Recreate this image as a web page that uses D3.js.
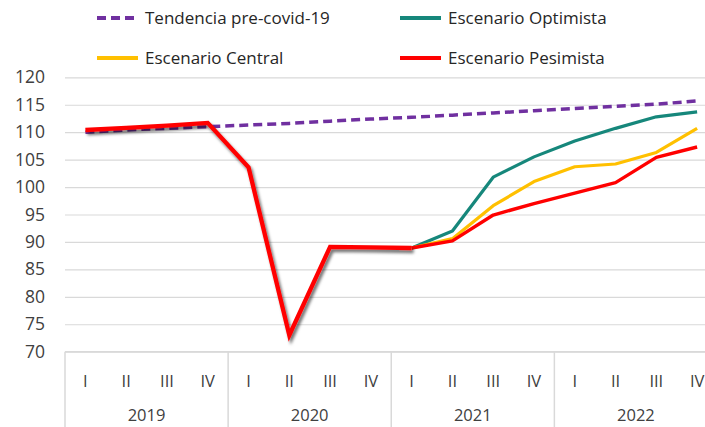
<!DOCTYPE html>
<html>
<head>
<meta charset="utf-8">
<script src="https://cdn.jsdelivr.net/npm/d3@7"></script>
<style>
  html, body { margin: 0; padding: 0; background: #fff; }
  svg { display: block; font-family: "Open Sans", sans-serif; }
</style>
</head>
<body>
<svg id="chart" width="705" height="427"></svg>
<script>
// Quarters and years on the horizontal axis
const years = ["2019", "2020", "2021", "2022"];
const quarters = ["I", "II", "III", "IV"];
const periods = years.flatMap(y => quarters.map(q => y + "-" + q));

// Y axis ticks
const yTicks = [70, 75, 80, 85, 90, 95, 100, 105, 110, 115, 120];

// Pre-covid-19 trend, all 16 quarters
const tendencia = [110.0, 110.4, 110.7, 111.0, 111.3, 111.6, 112.0, 112.4,
                   112.7, 113.1, 113.5, 113.9, 114.3, 114.7, 115.1, 115.7];

// Observed path shared by every scenario (2019-I .. 2021-I)
const historico = [110.4, 110.8, 111.2, 111.7, 103.6, 73.0, 89.1, 89.0, 88.9];

// Scenarios from 2021-I to 2022-IV
const optimista = [88.9, 92.0, 101.8, 105.5, 108.4, 110.7, 112.8, 113.7];
const central   = [88.9, 90.6, 96.6, 101.0, 103.7, 104.2, 106.3, 110.7];
const pesimista = [88.9, 90.2, 94.9, 97.0, 98.9, 100.8, 105.4, 107.3];

const colors = {
  tendencia: "#7030A0",
  optimista: "#16877B",
  central: "#FFC000",
  pesimista: "#FF0000",
  grid: "#D9D9D9",
  text: "#404040"
};

const svg = d3.select("#chart");
const plotLeft = 65, plotRight = 717.5, plotTop = 77.3, plotBottom = 351.7;

const x = d3.scaleBand().domain(periods).range([plotLeft, plotRight]).padding(0);
const y = d3.scaleLinear().domain([70, 120]).range([plotBottom, plotTop]);
const cx = p => x(p) + x.bandwidth() / 2;

const defs = svg.append("defs");
const shadow = defs.append("filter").attr("id", "shadow")
  .attr("x", "-10%").attr("y", "-10%").attr("width", "130%").attr("height", "130%");
shadow.append("feDropShadow")
  .attr("dx", 2).attr("dy", 3).attr("stdDeviation", 1.4)
  .attr("flood-color", "#000").attr("flood-opacity", 0.55);

// Gridlines and y labels
const yAxis = d3.axisLeft(y).tickValues(yTicks).tickSize(-(plotRight - plotLeft)).tickPadding(20);
const gy = svg.append("g").attr("transform", `translate(${plotLeft},0)`).call(yAxis);
gy.select(".domain").remove();
gy.selectAll(".tick line").attr("stroke", colors.grid).attr("stroke-width", 1.2);
gy.selectAll(".tick text")
  .attr("fill", colors.text).attr("font-size", 17.5)
  .attr("font-family", "'Open Sans', sans-serif");

// Category axis box: baseline, year separators, quarter and year labels
const axisG = svg.append("g");
axisG.append("line").attr("x1", plotLeft).attr("x2", plotRight)
  .attr("y1", plotBottom).attr("y2", plotBottom)
  .attr("stroke", colors.grid).attr("stroke-width", 1.5);
years.forEach(yr => {
  const x0 = x(yr + "-I");
  axisG.append("line").attr("x1", x0).attr("x2", x0)
    .attr("y1", plotBottom).attr("y2", 427)
    .attr("stroke", colors.grid).attr("stroke-width", 1.5);
  const x1 = x(yr + "-IV") + x.bandwidth();
  axisG.append("text").attr("x", (x0 + x1) / 2).attr("y", 421)
    .attr("text-anchor", "middle").attr("font-size", 16.5).attr("fill", colors.text)
    .text(yr);
});
periods.forEach(p => {
  axisG.append("text").attr("x", cx(p)).attr("y", 387)
    .attr("text-anchor", "middle").attr("font-size", 16.5).attr("fill", colors.text)
    .text(p.split("-")[1]);
});

const line = d3.line().x(d => cx(d.p)).y(d => y(d.v));
const asPoints = (vals, start) => vals.map((v, i) => ({ p: periods[start + i], v }));

// Trend
svg.append("path").datum(asPoints(tendencia, 0)).attr("d", line)
  .attr("fill", "none").attr("stroke", colors.tendencia)
  .attr("stroke-width", 3.5).attr("stroke-dasharray", "9,5");

// Scenarios
[[optimista, colors.optimista, 3.2], [central, colors.central, 3.2], [pesimista, colors.pesimista, 3.4]]
  .forEach(([vals, c, w]) => {
    svg.append("path").datum(asPoints(vals, 8)).attr("d", line)
      .attr("fill", "none").attr("stroke", c).attr("stroke-width", w)
      .attr("stroke-linejoin", "round");
  });

// Observed history with shadow
svg.append("path").datum(asPoints(historico, 0)).attr("d", line)
  .attr("fill", "none").attr("stroke", colors.pesimista).attr("stroke-width", 4.3)
  .attr("stroke-linejoin", "miter").attr("filter", "url(#shadow)");

// Legend
const legend = [
  { label: "Tendencia pre-covid-19", color: colors.tendencia, dash: "9,5", x: 97, y: 18 },
  { label: "Escenario Optimista", color: colors.optimista, dash: null, x: 400, y: 18 },
  { label: "Escenario Central", color: colors.central, dash: null, x: 97, y: 58 },
  { label: "Escenario Pesimista", color: colors.pesimista, dash: null, x: 400, y: 58 }
];
const lg = svg.append("g").selectAll("g").data(legend).join("g")
  .attr("transform", d => `translate(${d.x},${d.y})`);
lg.append("line").attr("x1", 0).attr("x2", 41).attr("y1", 0).attr("y2", 0)
  .attr("stroke", d => d.color).attr("stroke-width", 4)
  .attr("stroke-dasharray", d => d.dash);
lg.append("text").attr("x", 48).attr("y", 6)
  .attr("font-size", 17).attr("fill", "#262626")
  .text(d => d.label);
</script>
</body>
</html>
